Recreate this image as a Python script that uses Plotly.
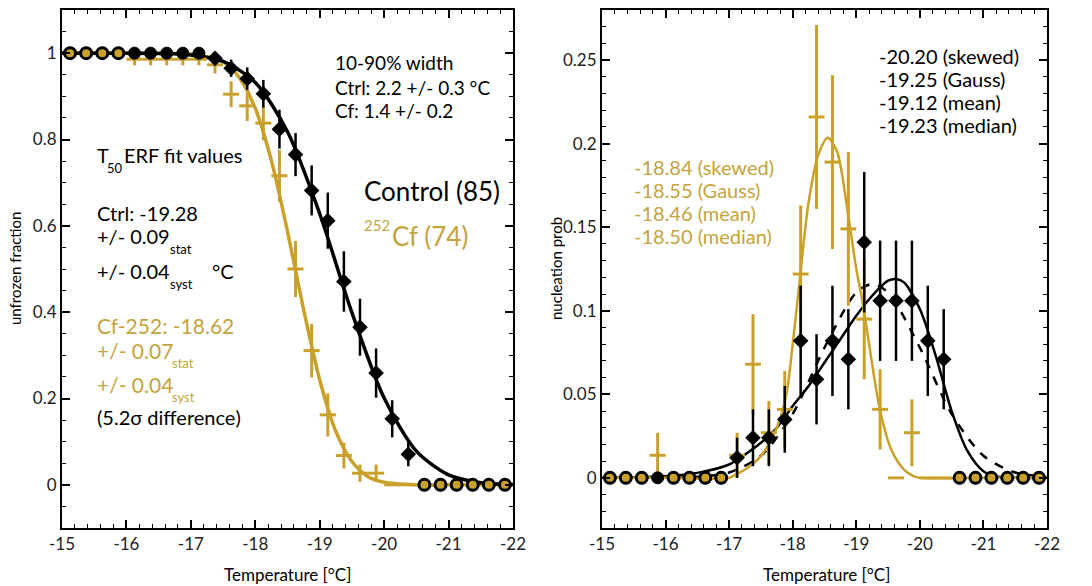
import plotly.graph_objects as go

# ---------------- data ----------------
bins = [-15.125, -15.375, -15.625, -15.875, -16.125, -16.375, -16.625, -16.875,
        -17.125, -17.375, -17.625, -17.875, -18.125, -18.375, -18.625, -18.875,
        -19.125, -19.375, -19.625, -19.875, -20.125, -20.375, -20.625, -20.875,
        -21.125, -21.375, -21.625, -21.875]

x_tick_vals = [-15, -16, -17, -18, -19, -20, -21, -22]
x_tick_text = ["-15", "-16", "-17", "-18", "-19", "-20", "-21", "-22"]
y1_tick_vals = [0, 0.2, 0.4, 0.6, 0.8, 1]
y1_tick_text = ["0", "0.2", "0.4", "0.6", "0.8", "1"]
y2_tick_vals = [0, 0.05, 0.1, 0.15, 0.2, 0.25]
y2_tick_text = ["0", "0.05", "0.1", "0.15", "0.2", "0.25"]

# left panel: unfrozen fraction
ctrl_frac = [1, 1, 1, 1, 1, 1, 1, 1, 1, 0.988, 0.965, 0.941, 0.906, 0.824, 0.765, 0.682,
             0.612, 0.471, 0.365, 0.259, 0.153, 0.071, 0, 0, 0, 0, 0, 0]
ctrl_frac_err = [0, 0, 0, 0, 0, 0, 0, 0, 0, 0.012, 0.02, 0.026, 0.032, 0.045, 0.05, 0.058,
                 0.065, 0.07, 0.066, 0.057, 0.043, 0.028, 0, 0, 0, 0, 0, 0]
cf_frac = [1, 1, 1, 1, 0.986, 0.986, 0.986, 0.986, 0.986, 0.973, 0.905, 0.878, 0.838, 0.716,
           0.5, 0.311, 0.162, 0.068, 0.027, 0.027, 0, 0, 0, 0, 0, 0, 0, 0]
cf_frac_err = [0, 0, 0, 0, 0.014, 0.014, 0.014, 0.014, 0.014, 0.02, 0.03, 0.035, 0.04, 0.06,
               0.065, 0.062, 0.05, 0.03, 0.02, 0.02, 0, 0, 0, 0, 0, 0, 0, 0]

# left panel ERF fit curves
ctrl_fit_x = [-15, -16, -16.5, -17, -17.5, -18, -18.5, -19, -19.5, -20, -20.5, -21, -21.5, -22]
ctrl_fit_y = [1, 1, 0.9995, 0.996, 0.981, 0.932, 0.818, 0.628, 0.399, 0.201, 0.078, 0.023, 0.005, 0.001]
cf_fit_x = [-15, -16, -16.5, -17, -17.5, -17.75, -18, -18.25, -18.5, -18.75, -19, -19.25,
            -19.5, -19.75, -20, -20.5, -21, -22]
cf_fit_y = [1, 1, 1, 0.998, 0.98, 0.944, 0.872, 0.751, 0.587, 0.406, 0.243, 0.124,
            0.054, 0.019, 0.006, 0, 0, 0]

# right panel: nucleation probability
ctrl_prob = [0, 0, 0, 0, 0, 0, 0, 0, 0.012, 0.024, 0.024, 0.035, 0.082, 0.059, 0.082, 0.071,
             0.141, 0.106, 0.106, 0.106, 0.082, 0.071, 0, 0, 0, 0, 0, 0]
ctrl_prob_err = [0, 0, 0, 0, 0, 0, 0, 0, 0.012, 0.017, 0.017, 0.02, 0.033, 0.027, 0.033, 0.03,
                 0.042, 0.036, 0.036, 0.036, 0.033, 0.03, 0, 0, 0, 0, 0, 0]
cf_prob = [0, 0, 0, 0.0135, 0, 0, 0, 0, 0.0135, 0.068, 0.027, 0.041, 0.122, 0.216, 0.189, 0.149,
           0.095, 0.041, 0, 0.027, 0, 0, 0, 0, 0, 0, 0, 0]
cf_prob_err = [0, 0, 0, 0.0135, 0, 0, 0, 0, 0.0135, 0.03, 0.019, 0.023, 0.041, 0.055, 0.052, 0.046,
               0.036, 0.024, 0, 0.02, 0, 0, 0, 0, 0, 0, 0, 0]

# right panel fit curves
ctrl_skew_x = [-15, -15.5, -16, -16.5, -17, -17.25, -17.5, -17.75, -18, -18.25, -18.5, -18.75, -19,
               -19.25, -19.5, -19.625, -19.75, -20, -20.25, -20.5, -20.75, -21, -21.25, -21.5, -22]
ctrl_skew_y = [0, 0.0003, 0.001, 0.003, 0.008, 0.014, 0.021, 0.03, 0.043, 0.055, 0.069, 0.083, 0.097,
               0.109, 0.118, 0.119, 0.117, 0.101, 0.073, 0.04, 0.016, 0.004, 0.0005, 0, 0]
ctrl_gauss_x = [-15, -16, -16.5, -17, -17.5, -18, -18.5, -19, -19.25, -19.5, -20, -20.5, -21, -21.5, -22]
ctrl_gauss_y = [0, 0.0001, 0.0006, 0.0032, 0.0132, 0.0383, 0.0779, 0.111, 0.116, 0.111, 0.0779,
                0.0383, 0.0132, 0.0032, 0.0006]
cf_curve_x = [-15, -16, -17, -17.1, -17.25, -17.5, -17.75, -17.9, -18, -18.1, -18.25, -18.4, -18.55,
              -18.7, -18.85, -19, -19.1, -19.25, -19.35, -19.5, -19.6, -19.75, -19.9, -20, -21, -22]
cf_curve_y = [0, 0, 0, 0.002, 0.005, 0.013, 0.03, 0.05, 0.08, 0.115, 0.165, 0.193, 0.2036,
              0.195, 0.163, 0.125, 0.105, 0.068, 0.045, 0.022, 0.013, 0.005, 0.001, 0, 0, 0]

cf_bar_only_from = -19.5   # Cf bins with only the horizontal bin bar (no entries)
cf_bar_only_to = -20.5

# ---------------- styles ----------------
GOLD = "#C9A12A"
GOLD_TXT = "#C4A43C"
BLACK = "#000000"
FONT = "Lato"
W, H = 1092, 586

fig = go.Figure()


def split(xs, ys, es, gold):
    circ_x, circ_y, cx, cy, ce = [], [], [], [], []
    for x, y, e in zip(xs, ys, es):
        bar_only = gold and (cf_bar_only_to < x < cf_bar_only_from)
        if e == 0 and y in (0, 1) and not bar_only:
            circ_x.append(x); circ_y.append(y)
        else:
            cx.append(x); cy.append(y); ce.append(e)
    return circ_x, circ_y, cx, cy, ce


def add_panel(xa, ya, ctrl, ctrl_e, cf, cf_e, curves):
    c_cx, c_cy, c_x, c_y, c_e = split(bins, ctrl, ctrl_e, False)
    g_cx, g_cy, g_x, g_y, g_e = split(bins, cf, cf_e, True)
    for cx_, cy_, col, dash, wid in curves:
        fig.add_trace(go.Scatter(x=cx_, y=cy_, mode="lines", xaxis=xa, yaxis=ya,
                                 line=dict(color=col, width=wid, dash=dash, shape="spline", smoothing=0.8),
                                 showlegend=False, hoverinfo="skip"))
    fig.add_trace(go.Scatter(x=g_x, y=g_y, mode="markers", xaxis=xa, yaxis=ya,
                             marker=dict(size=1, color=GOLD),
                             error_x=dict(type="constant", value=0.125, color=GOLD, thickness=3, width=0),
                             error_y=dict(type="data", array=g_e, color=GOLD, thickness=3, width=0),
                             showlegend=False))
    fig.add_trace(go.Scatter(x=c_x, y=c_y, mode="markers", xaxis=xa, yaxis=ya,
                             marker=dict(size=12, color=BLACK, symbol="diamond"),
                             error_x=dict(type="constant", value=0.07, color=BLACK, thickness=2.5, width=0),
                             error_y=dict(type="data", array=c_e, color=BLACK, thickness=2.5, width=0),
                             showlegend=False))
    fig.add_trace(go.Scatter(x=c_cx, y=c_cy, mode="markers", xaxis=xa, yaxis=ya,
                             marker=dict(size=12, color=BLACK, line=dict(color=BLACK, width=1)),
                             showlegend=False))
    fig.add_trace(go.Scatter(x=g_cx, y=g_cy, mode="markers", xaxis=xa, yaxis=ya,
                             marker=dict(size=11, color=GOLD, line=dict(color=BLACK, width=3)),
                             showlegend=False))


add_panel("x", "y", ctrl_frac, ctrl_frac_err, cf_frac, cf_frac_err,
          [(cf_fit_x, cf_fit_y, GOLD, "solid", 3.5),
           (ctrl_fit_x, ctrl_fit_y, BLACK, "solid", 3.5)])
add_panel("x2", "y2", ctrl_prob, ctrl_prob_err, cf_prob, cf_prob_err,
          [(ctrl_gauss_x, ctrl_gauss_y, BLACK, "dash", 2.5),
           (ctrl_skew_x, ctrl_skew_y, BLACK, "solid", 2.5),
           (cf_curve_x, cf_curve_y, GOLD, "solid", 2.5)])

axis_common = dict(showline=True, linewidth=2, linecolor=BLACK, mirror="allticks",
                   ticks="inside", ticklen=8, tickwidth=1.5, tickcolor=BLACK,
                   showgrid=False, zeroline=False, automargin=False,
                   tickfont=dict(family=FONT, size=17, color="#222222"))

xcommon = dict(axis_common, range=[-15, -22], tickmode="array", tickvals=x_tick_vals, ticktext=x_tick_text,
               minor=dict(ticks="inside", ticklen=4, tickwidth=1.2, tickcolor=BLACK, dtick=0.2, tick0=-15, showgrid=False))

fig.update_layout(
    width=W, height=H, autosize=False, margin=dict(l=0, r=0, t=0, b=0, pad=0),
    paper_bgcolor="white", plot_bgcolor="white",
    xaxis=dict(xcommon, domain=[62 / W, 513 / W], anchor="y"),
    xaxis2=dict(xcommon, domain=[602 / W, 1047 / W], anchor="y2"),
    yaxis=dict(axis_common, domain=[1 - 528 / H, 1 - 10 / H], range=[-0.1, 1.1],
               tickmode="array", tickvals=y1_tick_vals, ticktext=y1_tick_text,
               minor=dict(ticks="inside", ticklen=4, tickwidth=1.2, tickcolor=BLACK, dtick=0.05, tick0=0, showgrid=False),
               anchor="x"),
    yaxis2=dict(axis_common, domain=[1 - 528 / H, 1 - 10 / H], range=[-0.03, 0.28],
                tickmode="array", tickvals=y2_tick_vals, ticktext=y2_tick_text,
                minor=dict(ticks="inside", ticklen=4, tickwidth=1.2, tickcolor=BLACK, dtick=0.01, tick0=0, showgrid=False),
                anchor="x2"),
    showlegend=False,
)


def note(text, px, py, size=20, color=BLACK, xanchor="left", angle=0):
    fig.add_annotation(text=text, x=px / W, y=1 - py / H, xref="paper", yref="paper",
                       xanchor=xanchor, yanchor="middle", showarrow=False, textangle=angle,
                       font=dict(family=FONT, size=size, color=color))


# left panel texts
note("10-90% width", 333, 62, size=19)
note("Ctrl: 2.2 +/- 0.3 °C", 333, 87, size=19)
note("Cf: 1.4 +/- 0.2", 333, 110, size=19)

note("T", 95, 155)
note("50", 105, 168, size=13)
note("ERF fit values", 122, 155)

note("Control (85)", 362, 191, size=26)
note("252", 362, 225, size=15, color=GOLD_TXT)
note("Cf (74)", 390, 236, size=26, color=GOLD_TXT)

note("Ctrl: -19.28", 95, 213)
note("+/- 0.09", 95, 236)
note("stat", 168, 249, size=13)
note("+/- 0.04", 95, 271)
note("syst", 168, 284, size=13)
note("°C", 210, 271)

note("Cf-252: -18.62", 95, 325, size=21, color=GOLD_TXT)
note("+/- 0.07", 95, 350, size=21, color=GOLD_TXT)
note("stat", 170, 363, size=13, color=GOLD_TXT)
note("+/- 0.04", 95, 384, size=21, color=GOLD_TXT)
note("syst", 170, 397, size=13, color=GOLD_TXT)
note("(5.2σ difference)", 95, 417)

# right panel texts
for i, t in enumerate(["-20.20 (skewed)", "-19.25 (Gauss)", "-19.12 (mean)", "-19.23 (median)"]):
    note(t, 877, 56 + 23 * i)
for i, t in enumerate(["-18.84 (skewed)", "-18.55 (Gauss)", "-18.46 (mean)", "-18.50 (median)"]):
    note(t, 632, 167 + 23 * i, color=GOLD_TXT)

# axis titles
note("unfrozen fraction", 15, 269, size=15, xanchor="center", angle=-90)
note("nucleation prob", 556, 269, size=15, xanchor="center", angle=-90)
note("Temperature [°C]", 287, 574, size=17, xanchor="center")
note("Temperature [°C]", 826, 574, size=17, xanchor="center")

fig.write_html(
    "out.html",
    config={"displayModeBar": False, "responsive": False},
    post_script="document.documentElement.style.overflow='hidden';"
                "document.body.style.margin='0';document.body.style.overflow='hidden';",
)
